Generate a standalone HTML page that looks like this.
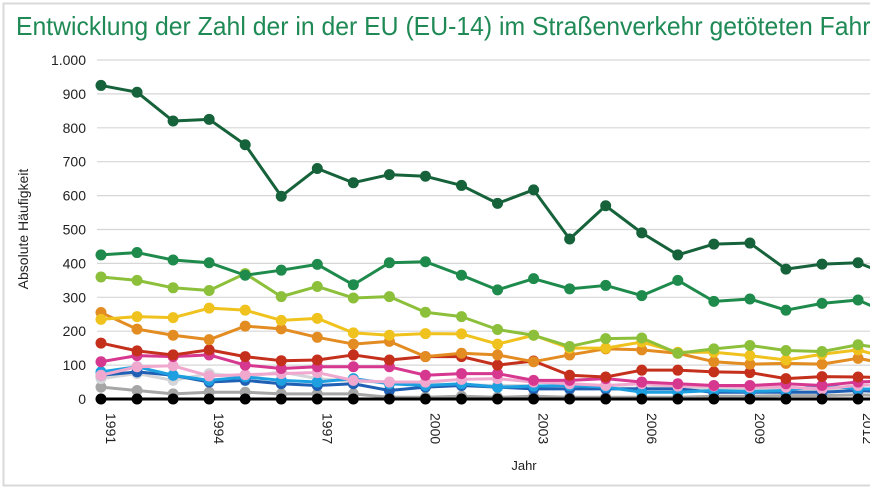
<!DOCTYPE html>
<html><head><meta charset="utf-8"><style>
html,body{margin:0;padding:0;background:#fff;width:870px;height:490px;overflow:hidden}
svg{display:block;font-family:"Liberation Sans",sans-serif}
</style></head><body>
<svg id="chart" width="870" height="490" viewBox="0 0 870 490">
<rect x="3.5" y="3.5" width="880" height="482" fill="#fff" stroke="#d9d9d9" stroke-width="2"/>
<text x="16" y="35" font-size="26" fill="#1f8a55" textLength="955" lengthAdjust="spacingAndGlyphs">Entwicklung der Zahl der in der EU (EU-14) im Straßenverkehr getöteten Fahrradfahrer</text>
<g id="grid"></g><g id="yticks"></g><g id="xticks"></g><g id="series"></g>
<text transform="translate(28,229) rotate(-90)" text-anchor="middle" font-size="14" fill="#222">Absolute Häufigkeit</text>
<text x="524" y="470" text-anchor="middle" font-size="13" fill="#222">Jahr</text>
</svg>
<script>
const years=[1991,1992,1993,1994,1995,1996,1997,1998,1999,2000,2001,2002,2003,2004,2005,2006,2007,2008,2009,2010,2011,2012,2013];
const yTickValues=[0,100,200,300,400,500,600,700,800,900,1000];
const yTickLabels=["0","100","200","300","400","500","600","700","800","900","1.000"];
const xTickLabels=["1991","1994","1997","2000","2003","2006","2009","2012"];
const sBlack=[0,0,0,0,0,0,0,0,0,0,0,0,0,0,0,0,0,0,0,0,0,0,0];
const sGray=[35,25,15,20,20,15,15,15,5,5,8,5,8,5,5,5,5,8,8,10,10,12,10];
const sLightGray=[60,75,55,75,65,80,60,52,50,45,42,40,40,30,32,32,38,30,28,28,28,25,25];
const sBlue=[70,80,70,50,55,45,40,45,25,35,40,35,30,30,30,30,30,20,20,20,20,25,20];
const sLightBlue=[80,95,70,55,65,55,50,60,45,40,45,35,38,40,35,20,20,25,22,25,40,30,28];
const sPink=[70,95,98,68,72,75,78,55,50,50,58,60,50,45,40,45,38,38,35,35,30,40,45];
const sMagenta=[110,128,125,130,100,90,95,95,95,70,75,75,55,55,60,50,45,40,40,45,40,50,55];
const sRed=[165,142,130,145,125,113,115,130,115,125,125,100,112,70,65,85,85,80,78,60,66,65,62];
const sOrange=[255,206,188,175,215,207,182,162,170,125,135,130,110,130,148,145,135,110,103,105,103,120,100];
const sYellow=[235,243,240,268,262,232,238,195,188,193,192,162,188,150,150,168,138,138,128,115,132,145,115];
const sLightGreen=[360,350,328,320,370,302,332,298,302,256,243,205,188,155,178,180,135,148,158,143,140,160,145];
const sMidGreen=[425,432,410,402,365,380,397,337,402,405,365,322,355,325,335,305,350,288,295,262,282,292,245];
const sDarkGreen=[925,905,820,825,750,598,680,638,662,657,630,577,617,472,570,490,425,457,460,383,398,402,360];

const NS="http://www.w3.org/2000/svg";
const x0=101,dx=36.05,y0=399,ky=0.339;
function X(year){return x0+(year-1991)*dx;}
function Y(v){return y0-v*ky;}
function mk(tag,attrs,parent){const e=document.createElementNS(NS,tag);for(const k in attrs)e.setAttribute(k,attrs[k]);parent.appendChild(e);return e;}
const grid=document.getElementById('grid'),yt=document.getElementById('yticks'),xt=document.getElementById('xticks'),sg=document.getElementById('series');
yTickValues.forEach((v,i)=>{
  const l=mk('line',{x1:97,x2:870,y1:Y(v),y2:Y(v),stroke:'#d6d6d6','stroke-width':1.2},grid);
  
  
  const t=mk('text',{x:86,y:Y(v)+5,'text-anchor':'end','font-size':14,fill:'#222'},yt);
  t.textContent=yTickLabels[i];
  
  
});
xTickLabels.forEach(lbl=>{
  const x=X(+lbl);
  const t=mk('text',{transform:`translate(${x+5},${413}) rotate(90)`,'font-size':14,fill:'#222'},xt);
  t.textContent=lbl;
  
  
});
const series=[
 [sGray,'#a6a6a6','series-gray'],
 [sLightGray,'#d3d5d8','series-lightgray'],
 [sBlue,'#1f5fb4','series-blue'],
 [sLightBlue,'#1ea0e0','series-lightblue'],
 [sPink,'#f0a8cf','series-pink'],
 [sMagenta,'#d6388f','series-magenta'],
 [sRed,'#c4301c','series-red'],
 [sOrange,'#e38c22','series-orange'],
 [sYellow,'#efc21e','series-yellow'],
 [sLightGreen,'#8cbf3a','series-lightgreen'],
 [sMidGreen,'#1e8a4c','series-midgreen'],
 [sDarkGreen,'#16623a','series-darkgreen'],
 [sBlack,'#000000','series-black']
];
series.forEach(([d,c,n])=>{
  const g=mk('g',{},sg);
  
  
  const p=mk('polyline',{points:d.map((v,i)=>X(years[i])+','+Y(v)).join(' '),fill:'none',stroke:c,'stroke-width':3,'stroke-linejoin':'round'},g);
  
  
  d.forEach((v,i)=>{
    const m=mk('circle',{cx:X(years[i]),cy:Y(v),r:5.5,fill:c},g);
    
    
  });
});
</script>
</body></html>
